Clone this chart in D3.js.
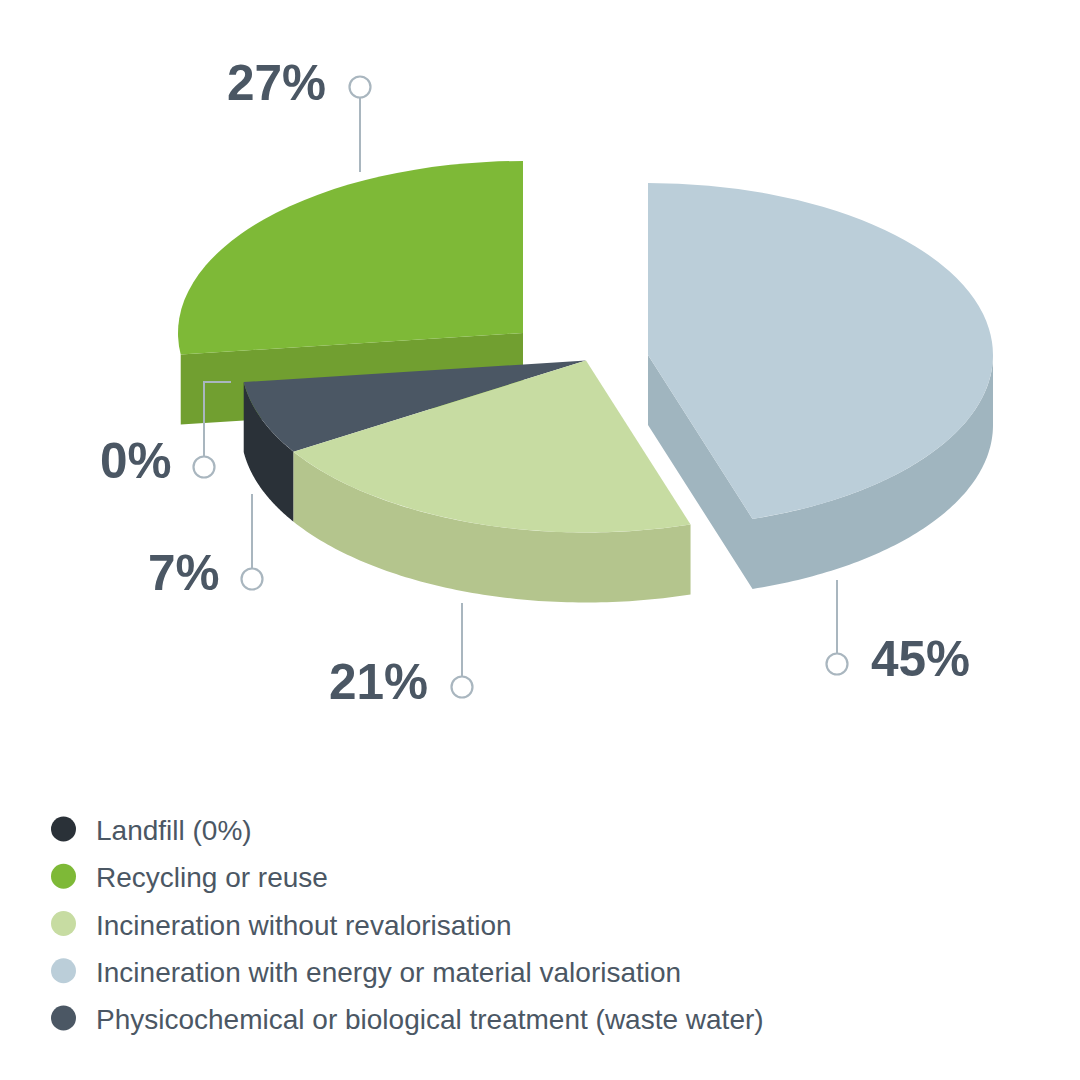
<!DOCTYPE html>
<html><head><meta charset="utf-8">
<style>html,body{margin:0;padding:0;background:#fff}svg{display:block}</style>
<script src="https://cdn.jsdelivr.net/npm/d3@7"></script></head>
<body><div id="chart"></div>
<script>
// Data (slice sizes; labels show them rounded)
const categories = ["Landfill (0%)","Recycling or reuse","Incineration without revalorisation","Incineration with energy or material valorisation","Physicochemical or biological treatment (waste water)"];
const values = [0,27,21,45.1,6.9];
// Pie is read clockwise from 12 o'clock in this order of category index
const pieOrder = [3,2,4,1,0];
const topColors = ["#2a3138","#7eb937","#c7dca2","#bbced9","#4b5764"];
const wallColors = ["#2a3138","#719f30","#b4c58d","#a0b5bf","#2a3138"];

// Layout
const W=1080,H=1080,rx=345,ry=172,depth=70;
const textColor="#4b5764",leaderColor="#a9b6bf";
const centres={1:[523,333],2:[586,360.5],3:[648,355],4:[586,360.5],0:[586,360.5]};
const drawOrder=[1,3,4,2];
const wallKinds={1:"radialEnd",2:"outer",3:"outerRadialEnd",4:"outer"};
const leaders={
  1:{pts:[[360,172],[360,98]],c:[360,87],t:[227,100]},
  3:{pts:[[837,580],[837,653]],c:[837,664],t:[871,676]},
  2:{pts:[[462,603],[462,676]],c:[462,687],t:[329,699]},
  4:{pts:[[252,494],[252,568]],c:[252,579],t:[148,590]},
  0:{pts:[[231,382],[204,382],[204,456]],c:[204,467],t:[100,478]}
};

const svg=d3.select("#chart").append("svg").attr("width",W).attr("height",H).attr("viewBox",`0 0 ${W} ${H}`);
const font="'Liberation Sans',Arial,sans-serif";
const arcs=d3.pie().value(i=>values[i]).sort((a,b)=>pieOrder.indexOf(a)-pieOrder.indexOf(b))(categories.map((_,i)=>i));
const byIdx={};arcs.forEach(a=>byIdx[a.data]=a);
const arcGen=d3.arc().innerRadius(0).outerRadius(rx);
const px=(i,t)=>centres[i][0]+rx*Math.sin(t);
const py=(i,t)=>centres[i][1]-ry*Math.cos(t);
const wallArea=d3.area().x(d=>d.x).y0(d=>d.y).y1(d=>d.y+depth);
function arcPts(i,a0,a1){const n=80;return d3.range(n+1).map(k=>{const t=a0+(a1-a0)*k/n;return{x:px(i,t),y:py(i,t)}});}

const pie=svg.append("g");
drawOrder.forEach(i=>{
  const a=byIdx[i],k=wallKinds[i],c=centres[i];
  const walls=[];
  if(k.startsWith("outer"))walls.push(arcPts(i,Math.max(a.startAngle,Math.PI/2),a.endAngle));
  if(k==="radialEnd")walls.push([{x:c[0],y:c[1]},{x:px(i,a.startAngle),y:py(i,a.startAngle)}]);
  if(k==="outerRadialEnd")walls.push([{x:c[0],y:c[1]},{x:px(i,a.endAngle),y:py(i,a.endAngle)}]);
  pie.append("path").attr("d",walls.map(w=>wallArea(w)).join("")).attr("fill",wallColors[i]);
  pie.append("path").attr("d",arcGen(a)).attr("fill",topColors[i])
    .attr("transform",`translate(${c[0]},${c[1]}) scale(1,${ry/rx})`);
});

// Leader lines and value labels
const lineGen=d3.line();
categories.forEach((_,i)=>{
  const l=leaders[i];
  svg.append("path").attr("d",lineGen(l.pts)).attr("fill","none").attr("stroke",leaderColor).attr("stroke-width",2);
  svg.append("circle").attr("cx",l.c[0]).attr("cy",l.c[1]).attr("r",10.5).attr("fill","#fff").attr("stroke",leaderColor).attr("stroke-width",2.2);
  svg.append("text").attr("x",l.t[0]).attr("y",l.t[1]).attr("font-family",font).attr("font-weight",700).attr("font-size",49.5).attr("fill",textColor).text(Math.round(values[i])+"%");
});

// Legend
const ly=d3.scalePoint().domain(d3.range(categories.length)).range([829,1018]);
const leg=svg.append("g").selectAll("g").data(categories).join("g");
leg.append("circle").attr("cx",63.5).attr("cy",(_,i)=>ly(i)).attr("r",12.5).attr("fill",(_,i)=>topColors[i]);
leg.append("text").attr("x",96).attr("y",(_,i)=>ly(i)+11).attr("font-family",font).attr("font-size",28).attr("fill",textColor).text(d=>d);
</script></body></html>
